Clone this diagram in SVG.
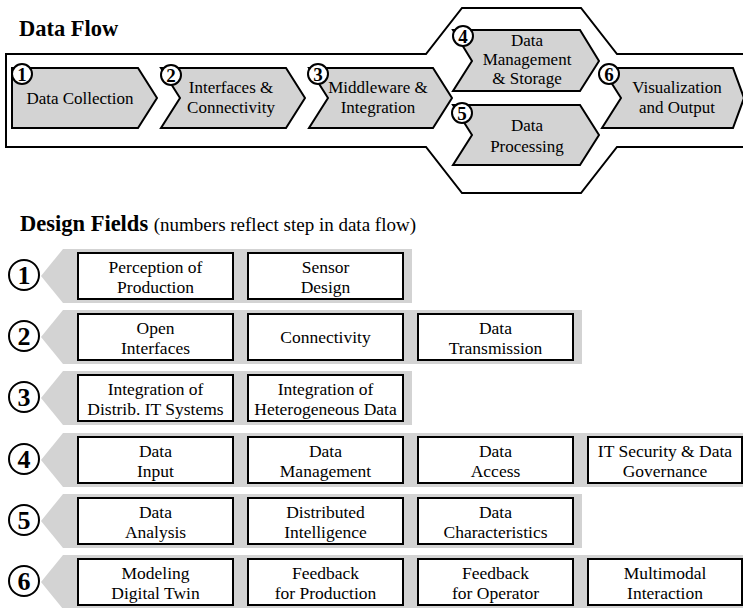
<svg xmlns="http://www.w3.org/2000/svg" width="743" height="608" viewBox="0 0 743 608">
  <style>
    .title { font-family: "Liberation Serif", "Times New Roman", serif; font-weight: bold; font-size: 22.5px; fill: #000; }
    .sub { font-family: "Liberation Serif", "Times New Roman", serif; font-weight: normal; font-size: 19px; }
    .chev { fill: #d3d3d3; stroke: #000; stroke-width: 2; stroke-linejoin: miter; }
    .frame { fill: none; stroke: #000; stroke-width: 2; }
    .ctext { font-family: "Liberation Serif", "Times New Roman", serif; font-size: 17px; fill: #000; text-anchor: middle; }
    .badge { fill: #fff; stroke: #000; stroke-width: 2; }
    .bnum { font-family: "Liberation Serif", "Times New Roman", serif; font-weight: bold; font-size: 19px; fill: #000; text-anchor: middle; }
    .big { fill: #fff; stroke: #000; stroke-width: 2; }
    .bignum { font-family: "Liberation Serif", "Times New Roman", serif; font-weight: bold; font-size: 26px; fill: #000; text-anchor: middle; }
    .band { fill: #d3d3d3; stroke: none; }
    .box { fill: #fff; stroke: #000; stroke-width: 2; }
    .btext { font-family: "Liberation Serif", "Times New Roman", serif; font-size: 17.5px; fill: #000; text-anchor: middle; }
  </style>

  <!-- Data Flow section -->
  <text class="title" x="19" y="36">Data Flow</text>

  <g id="connectors">
    <!-- outline enclosing the data-flow steps, widening around the parallel steps 4 and 5 -->
    <polyline class="frame" points="745,54 617,54 581,8 462,8 426,54 6,54 6,147 426,147 462,193 581,193 617,147 745,147"/>
  </g>

  <g id="step1">
    <polygon class="chev" points="12,68 138,68 157,98 138,128 12,128"/>
    <circle class="badge" cx="22" cy="74" r="10"/>
    <text class="bnum" x="22" y="80.5">1</text>
    <text class="ctext" x="80" y="104">Data Collection</text>
  </g>

  <g id="step2">
    <polygon class="chev" points="161,68 286,68 305,98 286,128 161,128 180,98"/>
    <circle class="badge" cx="171" cy="75" r="10"/>
    <text class="bnum" x="171" y="81.5">2</text>
    <text class="ctext" x="231" y="93">Interfaces &amp;</text>
    <text class="ctext" x="231" y="113">Connectivity</text>
  </g>

  <g id="step3">
    <polygon class="chev" points="309,68 433,68 452,98 433,128 309,128 328,98"/>
    <circle class="badge" cx="318" cy="74" r="10"/>
    <text class="bnum" x="318" y="80.5">3</text>
    <text class="ctext" x="378" y="93">Middleware &amp;</text>
    <text class="ctext" x="378" y="113">Integration</text>
  </g>

  <g id="step4">
    <polygon class="chev" points="453,30 580,30 599,61 580,91 453,91 472,61"/>
    <circle class="badge" cx="463" cy="36" r="10"/>
    <text class="bnum" x="463" y="42.5">4</text>
    <text class="ctext" x="527" y="46">Data</text>
    <text class="ctext" x="527" y="65">Management</text>
    <text class="ctext" x="527" y="84">&amp; Storage</text>
  </g>

  <g id="step5">
    <polygon class="chev" points="453,105 580,105 599,135 580,165 453,165 472,135"/>
    <circle class="badge" cx="462" cy="113" r="10"/>
    <text class="bnum" x="462" y="119.5">5</text>
    <text class="ctext" x="527" y="131">Data</text>
    <text class="ctext" x="527" y="152">Processing</text>
  </g>

  <g id="step6">
    <polygon class="chev" points="602,68 733,68 744,98 733,128 602,128 621,98"/>
    <circle class="badge" cx="609" cy="74" r="10"/>
    <text class="bnum" x="609" y="80.5">6</text>
    <text class="ctext" x="677" y="93">Visualization</text>
    <text class="ctext" x="677" y="113">and Output</text>
  </g>

  <!-- Design Fields section -->
  <text class="title" x="20" y="231">Design Fields <tspan class="sub">(numbers reflect step in data flow)</tspan></text>

  <g id="field-row1">
    <polygon class="band" points="63,249 412,249 412,303 63,303 41,276"/>
    <circle class="big" cx="24" cy="275" r="15"/>
    <text class="bignum" x="24" y="284">1</text>
    <rect class="box" x="78" y="253" width="155" height="46"/>
    <text class="btext" x="155.5" y="273">Perception of</text>
    <text class="btext" x="155.5" y="293">Production</text>
    <rect class="box" x="248" y="253" width="155" height="46"/>
    <text class="btext" x="325.5" y="273">Sensor</text>
    <text class="btext" x="325.5" y="293">Design</text>
  </g>

  <g id="field-row2">
    <polygon class="band" points="63,310 582,310 582,364 63,364 41,337"/>
    <circle class="big" cx="24" cy="336" r="15"/>
    <text class="bignum" x="24" y="345">2</text>
    <rect class="box" x="78" y="314" width="155" height="46"/>
    <text class="btext" x="155.5" y="334">Open</text>
    <text class="btext" x="155.5" y="354">Interfaces</text>
    <rect class="box" x="248" y="314" width="155" height="46"/>
    <text class="btext" x="325.5" y="343">Connectivity</text>
    <rect class="box" x="418" y="314" width="155" height="46"/>
    <text class="btext" x="495.5" y="334">Data</text>
    <text class="btext" x="495.5" y="354">Transmission</text>
  </g>

  <g id="field-row3">
    <polygon class="band" points="63,371 412,371 412,425 63,425 41,398"/>
    <circle class="big" cx="24" cy="397" r="15"/>
    <text class="bignum" x="24" y="406">3</text>
    <rect class="box" x="78" y="375" width="155" height="46"/>
    <text class="btext" x="155.5" y="395">Integration of</text>
    <text class="btext" x="155.5" y="415">Distrib. IT Systems</text>
    <rect class="box" x="248" y="375" width="155" height="46"/>
    <text class="btext" x="325.5" y="395">Integration of</text>
    <text class="btext" x="325.5" y="415">Heterogeneous Data</text>
  </g>

  <g id="field-row4">
    <polygon class="band" points="63,433 745,433 745,487 63,487 41,460"/>
    <circle class="big" cx="24" cy="459" r="15"/>
    <text class="bignum" x="24" y="468">4</text>
    <rect class="box" x="78" y="437" width="155" height="46"/>
    <text class="btext" x="155.5" y="457">Data</text>
    <text class="btext" x="155.5" y="477">Input</text>
    <rect class="box" x="248" y="437" width="155" height="46"/>
    <text class="btext" x="325.5" y="457">Data</text>
    <text class="btext" x="325.5" y="477">Management</text>
    <rect class="box" x="418" y="437" width="155" height="46"/>
    <text class="btext" x="495.5" y="457">Data</text>
    <text class="btext" x="495.5" y="477">Access</text>
    <rect class="box" x="588" y="437" width="154" height="46"/>
    <text class="btext" x="665" y="457">IT Security &amp; Data</text>
    <text class="btext" x="665" y="477">Governance</text>
  </g>

  <g id="field-row5">
    <polygon class="band" points="63,494 582,494 582,548 63,548 41,521"/>
    <circle class="big" cx="24" cy="520" r="15"/>
    <text class="bignum" x="24" y="529">5</text>
    <rect class="box" x="78" y="498" width="155" height="46"/>
    <text class="btext" x="155.5" y="518">Data</text>
    <text class="btext" x="155.5" y="538">Analysis</text>
    <rect class="box" x="248" y="498" width="155" height="46"/>
    <text class="btext" x="325.5" y="518">Distributed</text>
    <text class="btext" x="325.5" y="538">Intelligence</text>
    <rect class="box" x="418" y="498" width="155" height="46"/>
    <text class="btext" x="495.5" y="518">Data</text>
    <text class="btext" x="495.5" y="538">Characteristics</text>
  </g>

  <g id="field-row6">
    <polygon class="band" points="63,555 745,555 745,609 63,609 41,582"/>
    <circle class="big" cx="24" cy="581" r="15"/>
    <text class="bignum" x="24" y="590">6</text>
    <rect class="box" x="78" y="559" width="155" height="46"/>
    <text class="btext" x="155.5" y="579">Modeling</text>
    <text class="btext" x="155.5" y="599">Digital Twin</text>
    <rect class="box" x="248" y="559" width="155" height="46"/>
    <text class="btext" x="325.5" y="579">Feedback</text>
    <text class="btext" x="325.5" y="599">for Production</text>
    <rect class="box" x="418" y="559" width="155" height="46"/>
    <text class="btext" x="495.5" y="579">Feedback</text>
    <text class="btext" x="495.5" y="599">for Operator</text>
    <rect class="box" x="588" y="559" width="154" height="46"/>
    <text class="btext" x="665" y="579">Multimodal</text>
    <text class="btext" x="665" y="599">Interaction</text>
  </g>
</svg>
